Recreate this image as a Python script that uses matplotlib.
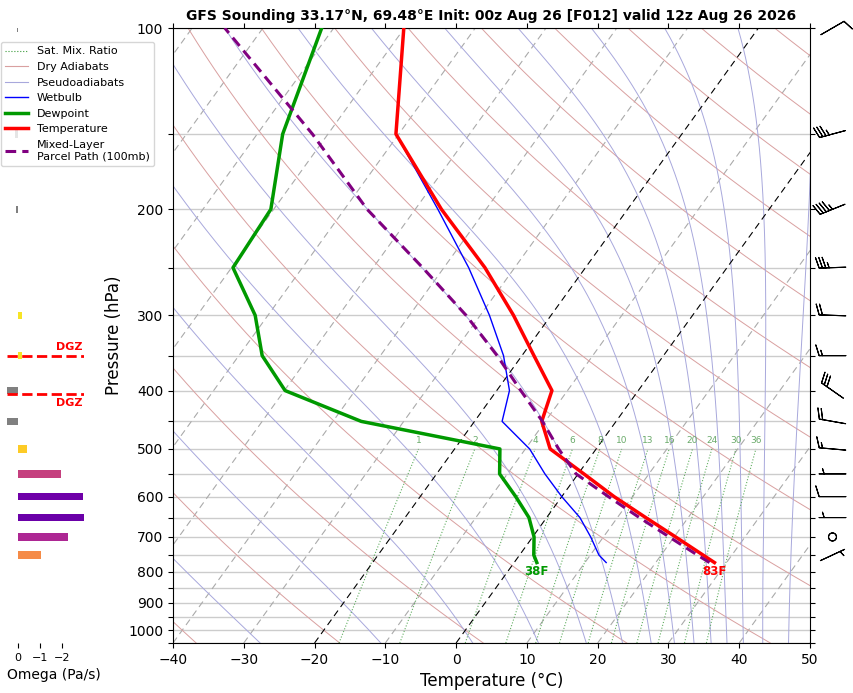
import numpy as np
import matplotlib
matplotlib.use("Agg")
import matplotlib.pyplot as plt
import matplotlib.ticker as mticker
from matplotlib.lines import Line2D

# ---------------- data ----------------
title = "GFS Sounding 33.17°N, 69.48°E Init: 00z Aug 26 [F012] valid 12z Aug 26 2026"

p_env = [772, 750, 700, 650, 600, 550, 500, 450, 400, 350, 300, 250, 200, 150, 100]
temp_c = [28.3, 25.9, 20.2, 14.0, 7.4, 0.8, -6.5, -10.5, -12.2, -18.3, -25.3, -34.2, -46.3, -60.4, -70.1]
dewp_c = [3.2, 2.0, 0.2, -2.5, -6.5, -11.1, -13.6, -36.0, -49.9, -56.7, -61.8, -69.8, -70.4, -76.4, -81.7]
wetb_c = [13.0, 11.2, 8.2, 4.7, 0.0, -4.7, -9.4, -16.1, -18.2, -22.6, -28.7, -36.5, -46.8, -60.4, -70.1]

parcel_p = [772, 750, 700, 650, 600, 550, 500, 450, 400, 350, 300, 250, 200, 150, 100]
parcel_c = [27.6, 25.1, 19.3, 13.1, 6.6, -0.3, -5.3, -10.4, -16.6, -23.5, -32.0, -43.0, -56.8, -72.2, -95.4]

mix_ratios = [1, 2, 4, 6, 8, 10, 13, 16, 20, 24, 30, 36]   # g/kg

omega_p = [100, 150, 200, 300, 350, 400, 450, 500, 550, 600, 650, 700, 750]
omega_pa = [0.03, 0.12, 0.08, -0.18, -0.2, 0.48, 0.48, -0.41, -1.97, -2.95, -3.0, -2.29, -1.05]

dgz_p = [350, 405]

wind_p = [100, 150, 200, 250, 300, 350, 400, 450, 500, 550, 600, 650, 700, 750]
wind_dir = [60, 255, 248, 268, 272, 270, 305, 280, 275, 270, 270, 270, 0, 65]
wind_kt = [10, 35, 45, 35, 20, 15, 30, 20, 15, 5, 10, 5, 0, 5]

# ---------------- constants ----------------
P_BOT, P_TOP = 1050.0, 100.0
SKEW = 26.67  # degC per ln(p)
Rd, Cp, Lv, EPS = 287.04, 1005.7, 2.501e6, 0.622


def skx(t, p):
    return np.asarray(t) + SKEW * np.log(P_BOT / np.asarray(p, dtype=float))


def es_hpa(tk):
    return 6.112 * np.exp(17.67 * (tk - 273.15) / (tk - 29.65))


def dtdp(p, tk):
    es = np.minimum(es_hpa(tk), 0.5 * p)
    rs = EPS * es / (p - es)
    return (Rd * tk + Lv * rs) / (Cp + Lv * Lv * rs * EPS / (Rd * tk * tk)) / p


W, H = 854, 693
fig = plt.figure(figsize=(W / 100, H / 100), dpi=100)
ax = fig.add_axes([173 / W, 50 / H, 637 / W, 615 / H])
ax.set_yscale("log")
ax.set_ylim(P_BOT, P_TOP)
ax.set_xlim(-40, 50)

pp = np.geomspace(P_BOT, P_TOP, 200)

# isotherms
for t in range(-120, 51, 10):
    if t in (0, -20):
        ax.plot(skx([t, t], [P_BOT, P_TOP]), [P_BOT, P_TOP], color="black", ls=(0, (6, 4)), lw=0.8, zorder=2)
    else:
        ax.plot(skx([t, t], [P_BOT, P_TOP]), [P_BOT, P_TOP], color="#aaaaaa", ls=(0, (6, 4)), lw=0.8, zorder=1)

# dry adiabats
for th in range(-40, 261, 20):
    tk = (th + 273.15) * (pp / 1000.0) ** 0.2857
    ax.plot(skx(tk - 273.15, pp), pp, color="#d9a0a0", lw=0.7, zorder=1)

# pseudo-adiabats, integrated downward from 100 hPa
pm = np.geomspace(P_TOP, P_BOT, 300)
th_top = np.arange(-30, 251, 20) + 273.15
tk = th_top * (P_TOP / 1000.0) ** 0.2857
prof = [tk.copy()]
for i in range(len(pm) - 1):
    p0, h = pm[i], pm[i + 1] - pm[i]
    k1 = dtdp(p0, tk)
    k2 = dtdp(p0 + h / 2, tk + h / 2 * k1)
    k3 = dtdp(p0 + h / 2, tk + h / 2 * k2)
    k4 = dtdp(p0 + h, tk + h * k3)
    tk = tk + h / 6 * (k1 + 2 * k2 + 2 * k3 + k4)
    prof.append(tk.copy())
prof = np.array(prof)
for j in range(prof.shape[1]):
    ax.plot(skx(prof[:, j] - 273.15, pm), pm, color="#a8a8dc", lw=0.7, zorder=1)

# mixing ratio lines
pw = np.geomspace(P_BOT, 500, 50)
for w in mix_ratios:
    e = (w / 1000.0) * pw / (EPS + w / 1000.0)
    le = np.log(e / 6.112)
    td = 243.5 * le / (17.67 - le)
    ax.plot(skx(td, pw), pw, color="#3a9a3a", ls=":", lw=0.8, alpha=0.8, zorder=1)
    ax.text(skx(td[-1], 500), 500 * 0.985, str(w), color="#6aaa6a", fontsize=6.5,
            ha="center", va="bottom", zorder=3)

# data lines
ax.plot(skx(wetb_c, p_env), p_env, color="blue", lw=1.0, zorder=4)
ax.plot(skx(dewp_c, p_env), p_env, color="#009900", lw=2.5, zorder=5)
ax.plot(skx(temp_c, p_env), p_env, color="red", lw=2.5, zorder=6)
ax.plot(skx(parcel_c, parcel_p), parcel_p, color="purple", lw=2.2, ls=(0, (3.5, 2)), zorder=7)

# surface labels
tf = round(temp_c[0] * 9 / 5 + 32)
df = round(dewp_c[0] * 9 / 5 + 32)
ax.annotate(f"{tf}F", (skx(temp_c[0], p_env[0]), p_env[0]), xytext=(0, -1.5), textcoords="offset points",
            ha="center", va="top", color="red", fontsize=8.5, fontweight="bold", zorder=8)
ax.annotate(f"{df}F", (skx(dewp_c[0], p_env[0]), p_env[0]), xytext=(0, -1.5), textcoords="offset points",
            ha="center", va="top", color="#009900", fontsize=8.5, fontweight="bold", zorder=8)

# axes cosmetics
ax.yaxis.set_major_locator(mticker.FixedLocator(list(range(100, 1001, 100))))
ax.yaxis.set_major_formatter(mticker.FixedFormatter([str(v) for v in range(100, 1001, 100)]))
ax.yaxis.set_minor_locator(mticker.FixedLocator(list(range(150, 1051, 100))))
ax.yaxis.set_minor_formatter(mticker.NullFormatter())
ax.xaxis.set_major_locator(mticker.MultipleLocator(10))
ax.tick_params(which="both", direction="out", top=True, right=True, labelsize=10)
ax.tick_params(which="minor", length=3.5, width=0.8)
ax.yaxis.grid(True, which="both", color="#cccccc", lw=1.0, zorder=0)
ax.set_axisbelow(True)
ax.set_ylabel("Pressure (hPa)", fontsize=12)
ax.set_xlabel("Temperature (°C)", fontsize=12)
ax.set_title(title, fontsize=10, fontweight="bold")

# legend
handles = [
    Line2D([], [], color="#3a9a3a", ls=":", lw=0.8),
    Line2D([], [], color="#d9a0a0", lw=0.8),
    Line2D([], [], color="#a8a8dc", lw=0.8),
    Line2D([], [], color="blue", lw=1.0),
    Line2D([], [], color="#009900", lw=2.5),
    Line2D([], [], color="red", lw=2.5),
    Line2D([], [], color="purple", lw=2.2, ls=(0, (3.5, 2))),
]
labels = ["Sat. Mix. Ratio", "Dry Adiabats", "Pseudoadiabats", "Wetbulb", "Dewpoint", "Temperature",
          "Mixed-Layer\nParcel Path (100mb)"]
fig.legend(handles, labels, loc="upper left", bbox_to_anchor=(1 / W, 1 - 42 / H), fontsize=8,
           borderaxespad=0, framealpha=0.8)

# omega panel
axw = fig.add_axes([7 / W, 50 / H, 77 / W, 615 / H], sharey=ax)
axw.set_xlim(0.5, -3.0)
cmap = plt.get_cmap("plasma")
for p, w in zip(omega_p, omega_pa):
    col = "#808080" if w > 0 else cmap(max(0.0, 1 - abs(w) / 3.75))
    axw.barh(p, w, height=p * 0.028, color=col, zorder=2)
for i, p in enumerate(dgz_p):
    axw.axhline(p, color="red", ls="--", lw=2, zorder=3)
    axw.text(-2.95, p * (0.985 if i == 0 else 1.015), "DGZ", color="red", fontsize=8, fontweight="bold",
             ha="right", va="bottom" if i == 0 else "top", zorder=4)
for s in axw.spines.values():
    s.set_visible(False)
axw.yaxis.set_visible(False)
axw.set_xticks([0, -1, -2])
axw.set_xticklabels(["0", "\u22121", "\u22122"])
axw.tick_params(axis="x", labelsize=8, length=3.5)
axw.set_xlabel("Omega (Pa/s)", fontsize=10)
axw.xaxis.set_label_coords(0.61, -0.04)

# wind barbs
axb = fig.add_axes([811 / W, 50 / H, 43 / W, 615 / H], sharey=ax)
axb.set_xlim(0, 1)
axb.axis("off")
d = np.deg2rad(wind_dir)
u = -np.array(wind_kt) * np.sin(d)
v = -np.array(wind_kt) * np.cos(d)
axb.barbs(np.full(len(wind_p), 0.5), wind_p, u, v, length=6.2, pivot="middle", lw=0.8, clip_on=False)
axb.set_ylim(P_BOT, P_TOP)

fig.savefig("out.png", dpi=100)
